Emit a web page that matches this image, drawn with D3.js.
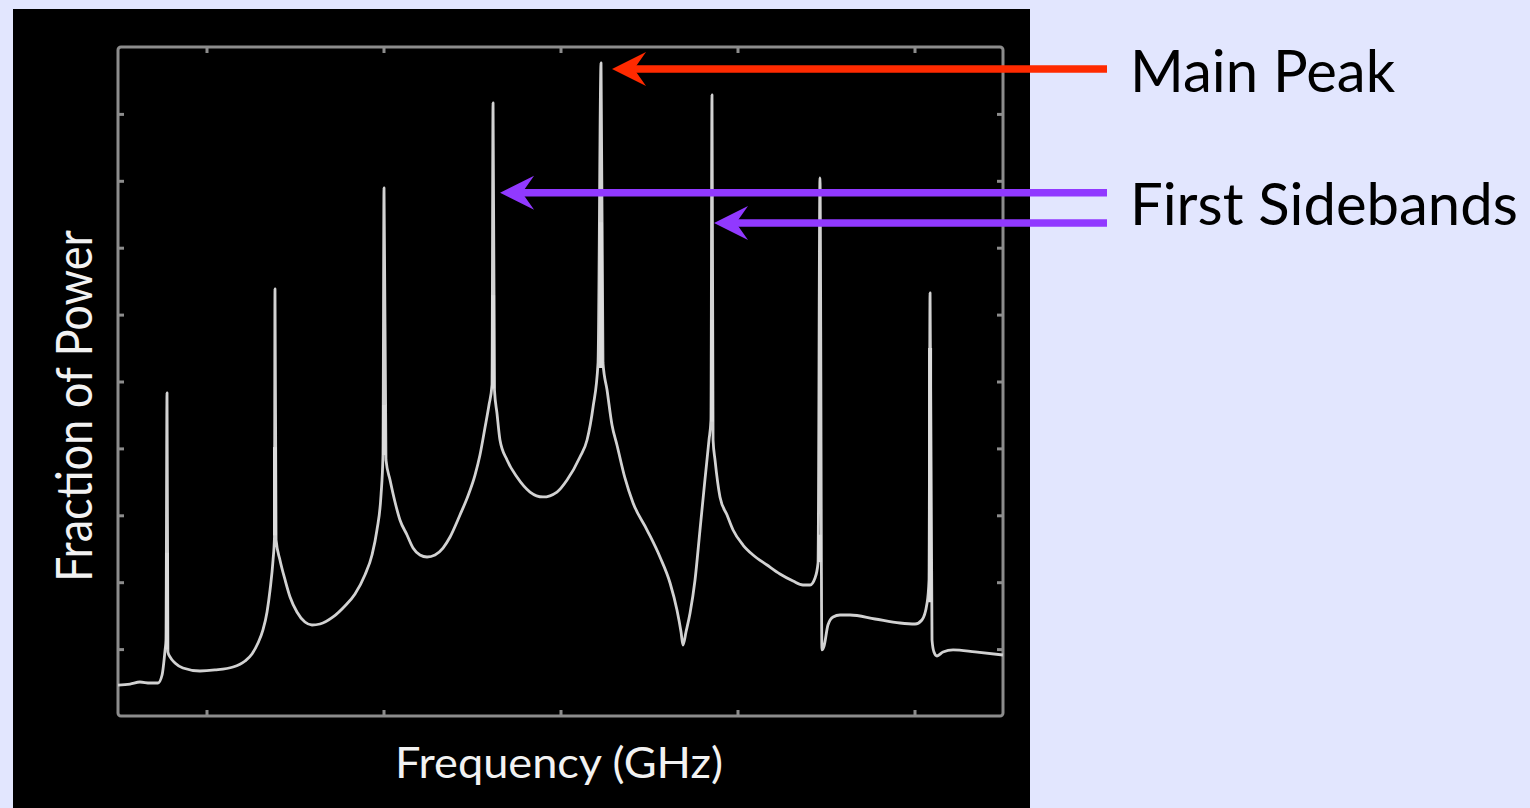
<!DOCTYPE html>
<html>
<head>
<meta charset="utf-8">
<script src="https://cdn.jsdelivr.net/npm/d3@7"></script>
<style>
  html, body { margin: 0; padding: 0; background: #e2e6fe; }
  svg { display: block; }
</style>
</head>
<body>
<svg id="chart" width="1530" height="808"></svg>
<script>
// Spectrum trace (frequency in plot units, power in tick units)
const freqGHz = [0.000, 0.068, 0.124, 0.181, 0.226, 0.249, 0.266, 0.271, 0.277, 0.282, 0.294, 0.322,
  0.367, 0.463, 0.548, 0.650, 0.718, 0.757, 0.791, 0.819, 0.842, 0.859, 0.876, 0.884, 0.887, 0.893,
  0.915, 0.944, 0.972, 1.011, 1.056, 1.096, 1.141, 1.215, 1.282, 1.339, 1.395, 1.435, 1.463, 1.486,
  1.497, 1.503, 1.514, 1.537, 1.565, 1.593, 1.633, 1.667, 1.706, 1.746, 1.791, 1.836, 1.876, 1.932,
  1.977, 2.017, 2.045, 2.073, 2.096, 2.113, 2.119, 2.127, 2.141, 2.158, 2.198, 2.254, 2.328, 2.401,
  2.480, 2.537, 2.610, 2.650, 2.684, 2.712, 2.729, 2.740, 2.763, 2.791, 2.819, 2.864, 2.910, 2.989,
  3.062, 3.119, 3.158, 3.181, 3.192, 3.209, 3.232, 3.260, 3.288, 3.316, 3.339, 3.350, 3.356, 3.362,
  3.373, 3.401, 3.441, 3.475, 3.531, 3.588, 3.667, 3.740, 3.814, 3.870, 3.910, 3.938, 3.955, 3.966,
  3.977, 3.989, 4.011, 4.040, 4.079, 4.136, 4.277, 4.418, 4.503, 4.542, 4.571, 4.582, 4.588, 4.599,
  4.610, 4.627, 4.661, 4.718, 4.842, 5.000];
const power = [0.463, 0.478, 0.508, 0.493, 0.493, 0.613, 0.987, 1.136, 4.828, 0.957, 0.882, 0.792,
  0.718, 0.673, 0.688, 0.732, 0.822, 0.927, 1.091, 1.286, 1.555, 1.883, 2.332, 2.676, 6.383, 2.631,
  2.332, 2.033, 1.779, 1.555, 1.405, 1.360, 1.375, 1.480, 1.644, 1.824, 2.108, 2.407, 2.780, 3.303,
  3.901, 7.892, 3.827, 3.528, 3.199, 2.930, 2.706, 2.511, 2.407, 2.377, 2.407, 2.511, 2.676, 3.004,
  3.289, 3.602, 3.901, 4.305, 4.649, 4.948, 9.163, 4.873, 4.529, 4.126, 3.827, 3.572, 3.348, 3.274,
  3.348, 3.528, 3.872, 4.126, 4.619, 5.277, 9.761, 5.277, 4.873, 4.350, 4.051, 3.558, 3.184, 2.780,
  2.377, 1.988, 1.584, 1.256, 1.061, 1.256, 1.540, 2.033, 2.780, 3.528, 4.126, 4.425, 9.283, 4.126,
  3.827, 3.274, 3.004, 2.780, 2.556, 2.407, 2.257, 2.123, 2.018, 1.958, 1.958, 2.063, 2.287, 8.042,
  0.987, 1.046, 1.360, 1.480, 1.510, 1.510, 1.450, 1.390, 1.375, 1.435, 1.689, 2.033, 6.323, 1.136,
  0.957, 0.897, 0.957, 0.987, 0.957, 0.912];

// brighter overlapping segments at the foot of each spike
const spikeFreq = [0.277, 0.887, 1.503, 2.119, 2.729, 3.356, 3.966, 4.588];
const spikeBase = [1.0, 2.7, 3.9, 4.9, 5.2, 4.4, 2.3, 1.7];
const spikeInner = [2.44, 4.02, 4.65, 6.29, 7.38, 5.92, 2.71, 5.5];

const xTicks = [0.5, 1.5, 2.5, 3.5, 4.5];
const yTicks = [1, 2, 3, 4, 5, 6, 7, 8, 9];

// annotations: label, arrow colour, target frequency, arrow level
const noteLabels = ["Main Peak", "First Sidebands"];
const noteColors = ["#ff2a00", "#9139ff", "#9139ff"];
const noteFreq = [2.729, 2.119, 3.356];
const noteLevel = [9.67, 7.82, 7.37];

const svg = d3.select("#chart");

// black slide panel
svg.append("rect")
    .attr("x", 13).attr("y", 9)
    .attr("width", 1017).attr("height", 799)
    .attr("fill", "#000");

const x = d3.scaleLinear().domain([0, 5]).range([118, 1003]);
const y = d3.scaleLinear().domain([0, 10]).range([716, 47]);

const defs = svg.append("defs");
defs.append("filter").attr("id", "soft")
    .append("feGaussianBlur").attr("stdDeviation", 0.6);

const plot = svg.append("g").attr("filter", "url(#soft)");

// frame
plot.append("rect")
    .attr("x", x(0)).attr("y", y(10))
    .attr("width", x(5) - x(0)).attr("height", y(0) - y(10))
    .attr("rx", 3)
    .attr("fill", "none")
    .attr("stroke", "#8c8c8c")
    .attr("stroke-width", 3);

// inward ticks on all four sides
function styleAxis(g) {
    g.select(".domain").remove();
    g.selectAll(".tick line").attr("stroke", "#8c8c8c").attr("stroke-width", 3);
}
plot.append("g").attr("transform", `translate(0,${y(0)})`)
    .call(d3.axisBottom(x).tickValues(xTicks).tickSize(-6).tickFormat(""))
    .call(styleAxis);
plot.append("g").attr("transform", `translate(0,${y(10)})`)
    .call(d3.axisTop(x).tickValues(xTicks).tickSize(-6).tickFormat(""))
    .call(styleAxis);
plot.append("g").attr("transform", `translate(${x(0)},0)`)
    .call(d3.axisLeft(y).tickValues(yTicks).tickSize(-6).tickFormat(""))
    .call(styleAxis);
plot.append("g").attr("transform", `translate(${x(5)},0)`)
    .call(d3.axisRight(y).tickValues(yTicks).tickSize(-6).tickFormat(""))
    .call(styleAxis);

// spectrum line
const trace = freqGHz.map((f, i) => ({ f: f, p: power[i] }));
const line = d3.line()
    .x(d => x(d.f))
    .y(d => y(d.p))
    .curve(d3.curveMonotoneX);

plot.append("path")
    .datum(trace)
    .attr("d", line)
    .attr("fill", "none")
    .attr("stroke", "#d2d2d2")
    .attr("stroke-width", 2.8)
    .attr("stroke-linejoin", "round");

plot.selectAll(".spike-inner")
    .data(spikeFreq)
    .join("line")
    .attr("class", "spike-inner")
    .attr("x1", d => x(d)).attr("x2", d => x(d))
    .attr("y1", (d, i) => y(spikeBase[i]))
    .attr("y2", (d, i) => y(spikeInner[i]))
    .attr("stroke", "#dcdcdc")
    .attr("stroke-width", 4);

// axis titles
svg.append("text")
    .attr("x", 559).attr("y", 778)
    .attr("text-anchor", "middle")
    .attr("font-family", "Lato, 'Open Sans', sans-serif")
    .attr("font-size", 42)
    .attr("textLength", 328)
    .attr("lengthAdjust", "spacingAndGlyphs")
    .attr("fill", "#f2f2f2")
    .text("Frequency (GHz)");

svg.append("text")
    .attr("transform", "translate(92,406) rotate(-90)")
    .attr("text-anchor", "middle")
    .attr("font-family", "Lato, 'Open Sans', sans-serif")
    .attr("font-size", 50)
    .attr("textLength", 352)
    .attr("lengthAdjust", "spacingAndGlyphs")
    .attr("fill", "#f2f2f2")
    .text("Fraction of Power");

// arrows
const tipOffset = [11, 7, 2];
const lineEnd = 1107;
noteFreq.forEach((f, i) => {
    const tx = x(f) + tipOffset[i];
    const ty = y(noteLevel[i]);
    svg.append("line")
        .attr("x1", tx + 20).attr("y1", ty)
        .attr("x2", lineEnd).attr("y2", ty)
        .attr("stroke", noteColors[i])
        .attr("stroke-width", 7.5);
    svg.append("path")
        .attr("d", `M${tx},${ty} L${tx + 34},${ty - 17} L${tx + 22},${ty} L${tx + 34},${ty + 17} Z`)
        .attr("fill", noteColors[i]);
});

// labels on the right
svg.append("text")
    .attr("x", 1130).attr("y", 92)
    .attr("font-family", "Lato, 'Open Sans', sans-serif")
    .attr("font-size", 58)
    .attr("fill", "#000")
    .text(noteLabels[0]);

svg.append("text")
    .attr("x", 1130).attr("y", 225)
    .attr("font-family", "Lato, 'Open Sans', sans-serif")
    .attr("font-size", 58)
    .attr("fill", "#000")
    .text(noteLabels[1]);
</script>
</body>
</html>
